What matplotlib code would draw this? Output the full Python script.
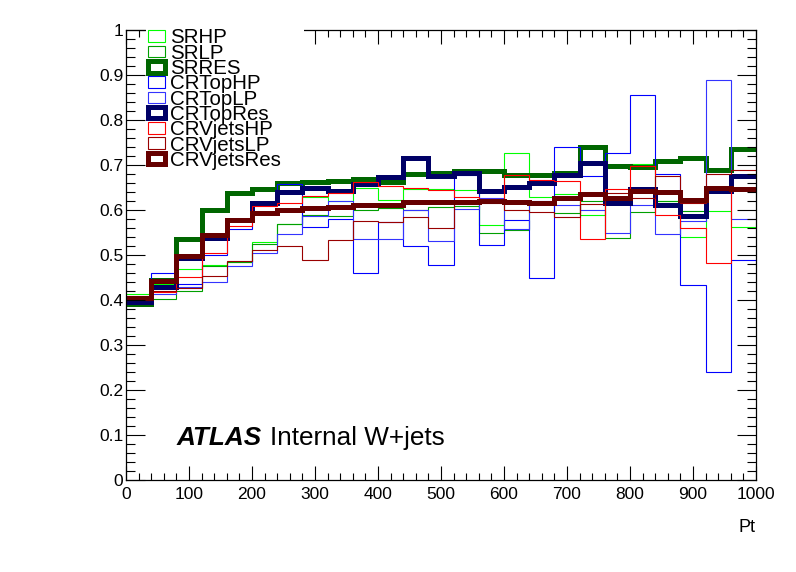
import numpy as np
import matplotlib
matplotlib.use("Agg")
import matplotlib.pyplot as plt
from matplotlib.patches import Patch
from matplotlib.ticker import MultipleLocator

plt.rcParams['font.family'] = ['Liberation Sans', 'DejaVu Sans']

# 25 bins of 40 GeV in Pt
edges = np.arange(0, 1001, 40)

names = ["SRHP", "SRLP", "SRRES", "CRTopHP", "CRTopLP", "CRTopRes",
         "CRVjetsHP", "CRVjetsLP", "CRVjetsRes"]

sr_hp = [0.413, 0.435, 0.469, 0.478, 0.484, 0.528, 0.570, 0.630, 0.621, 0.648,
         0.622, 0.646, 0.646, 0.645, 0.566, 0.726, 0.628, 0.635, 0.588, 0.700,
         0.702, 0.619, 0.541, 0.598, 0.562]
sr_lp = [0.400, 0.402, 0.420, 0.476, 0.484, 0.525, 0.569, 0.590, 0.587, 0.600,
         0.605, 0.601, 0.607, 0.609, 0.548, 0.556, 0.615, 0.593, 0.619, 0.537,
         0.595, 0.620, 0.598, 0.645, 0.645]
sr_res = [0.391, 0.445, 0.536, 0.601, 0.638, 0.646, 0.659, 0.663, 0.665, 0.670,
          0.663, 0.679, 0.683, 0.686, 0.687, 0.678, 0.678, 0.683, 0.739, 0.698,
          0.696, 0.710, 0.715, 0.688, 0.736]
cr_top_hp = [0.400, 0.459, 0.435, 0.501, 0.557, 0.612, 0.657, 0.563, 0.581, 0.459,
             0.574, 0.520, 0.477, 0.678, 0.522, 0.578, 0.448, 0.739, 0.675, 0.726,
             0.855, 0.681, 0.433, 0.241, 0.489]
cr_top_lp = [0.405, 0.413, 0.428, 0.441, 0.476, 0.505, 0.547, 0.587, 0.619, 0.535,
             0.536, 0.600, 0.532, 0.602, 0.626, 0.558, 0.620, 0.611, 0.600, 0.548,
             0.611, 0.546, 0.576, 0.890, 0.579]
cr_top_res = [0.396, 0.430, 0.493, 0.538, 0.578, 0.615, 0.641, 0.648, 0.642, 0.657,
              0.673, 0.715, 0.676, 0.682, 0.642, 0.652, 0.659, 0.678, 0.704, 0.616,
              0.646, 0.612, 0.587, 0.643, 0.675]
cr_vjets_hp = [0.410, 0.417, 0.452, 0.505, 0.564, 0.609, 0.615, 0.631, 0.637, 0.663,
               0.653, 0.650, 0.645, 0.628, 0.625, 0.677, 0.667, 0.665, 0.535, 0.646,
               0.697, 0.589, 0.559, 0.482, 0.648]
cr_vjets_lp = [0.400, 0.420, 0.426, 0.453, 0.487, 0.511, 0.519, 0.489, 0.533, 0.576,
               0.573, 0.584, 0.559, 0.615, 0.615, 0.601, 0.595, 0.585, 0.613, 0.637,
               0.626, 0.676, 0.615, 0.680, 0.690]
cr_vjets_res = [0.404, 0.442, 0.497, 0.545, 0.578, 0.593, 0.600, 0.604, 0.606, 0.611,
                0.611, 0.617, 0.617, 0.618, 0.619, 0.617, 0.615, 0.627, 0.635, 0.626,
                0.643, 0.641, 0.622, 0.650, 0.646]

series = [sr_hp, sr_lp, sr_res, cr_top_hp, cr_top_lp, cr_top_res,
          cr_vjets_hp, cr_vjets_lp, cr_vjets_res]
colors = ["#00ff00", "#00a000", "#006600", "#0000ff", "#3333ff", "#000066",
          "#ff0000", "#990000", "#660000"]
widths = [0.8, 0.8, 3.6, 0.8, 0.8, 3.6, 0.8, 0.8, 3.6]

fig = plt.figure(figsize=(7.96, 5.72), dpi=100)
ax = fig.add_axes([126/796, 92/572, 630/796, 450/572])

for vals, c, lw in zip(series, colors, widths):
    ax.stairs(vals, edges, baseline=None, color=c, linewidth=lw)

ax.set_xlim(0, 1000)
ax.set_ylim(0, 1)
ax.xaxis.set_major_locator(MultipleLocator(100))
ax.xaxis.set_minor_locator(MultipleLocator(20))
ax.yaxis.set_major_locator(MultipleLocator(0.1))
ax.yaxis.set_minor_locator(MultipleLocator(0.02))
ax.set_yticks(np.arange(0, 1.01, 0.1))
ax.set_yticklabels(["0", "0.1", "0.2", "0.3", "0.4", "0.5", "0.6", "0.7",
                    "0.8", "0.9", "1"])
ax.tick_params(axis="both", which="both", direction="in", top=True, right=True,
               labelsize=12.5, width=0.8)
ax.tick_params(axis="x", which="major", length=10, pad=5)
ax.tick_params(axis="x", which="minor", length=5)
ax.tick_params(axis="y", which="major", length=14, pad=2)
ax.tick_params(axis="y", which="minor", length=6.7)
for sp in ax.spines.values():
    sp.set_linewidth(0.9)

ax.text(1.0, -0.1156, "Pt", transform=ax.transAxes, ha="right",
        va="baseline", fontsize=13)
ax.text(81, 0.078, "ATLAS", fontsize=18.8, fontweight="bold", style="italic",
        va="baseline")
ax.text(228, 0.078, "Internal W+jets", fontsize=18.8, va="baseline")

handles = [Patch(facecolor="none", edgecolor=c, linewidth=lw)
           for c, lw in zip(colors, widths)]
leg = ax.legend(handles, names, loc="upper left",
                bbox_to_anchor=(0.032, 1.008, 0.25, 0.0), mode="expand",
                fontsize=14.8, labelspacing=-0.18, handlelength=0.83,
                handleheight=0.49, handletextpad=0.25, borderpad=0.1,
                borderaxespad=0, frameon=True, fancybox=False,
                facecolor="white", edgecolor="none", framealpha=1)
leg.set_zorder(5)

fig.savefig("out.png", dpi=100)
